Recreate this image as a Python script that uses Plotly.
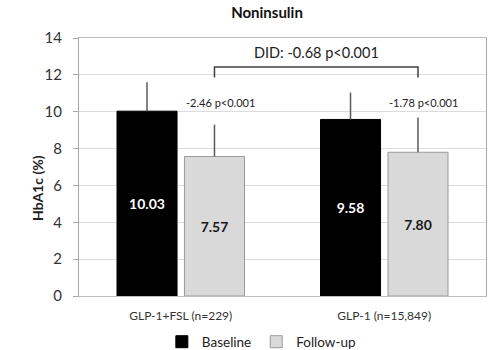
import plotly.graph_objects as go

# Data
groups = ["GLP-1+FSL (n=229)", "GLP-1 (n=15,849)"]
baseline = [10.03, 9.58]
followup = [7.57, 7.80]
baseline_sd = [1.57, 1.46]
followup_sd = [1.73, 1.88]
change_labels = ["-2.46 p<0.001", "-1.78 p<0.001"]
did_label = "DID: -0.68 p<0.001"
y_ticks = [0, 2, 4, 6, 8, 10, 12, 14]

FONT = "Lato, 'Open Sans', sans-serif"
BARGAP = 0.337
GROUPGAP = 0.11
# centre of the second bar in each group, relative to the category position
slot = (1 - BARGAP) / 2
fu_offset = slot / 2

fig = go.Figure()
fig.add_trace(go.Bar(
    name="Baseline", x=[0, 1], y=baseline,
    marker=dict(color="#000000", line=dict(color="#000000", width=1)),
    text=[f"{v:.2f}" for v in baseline], textposition="inside",
    insidetextanchor="middle",
    textfont=dict(family=FONT, size=14, color="white", weight="bold"),
    error_y=dict(type="data", array=baseline_sd, arrayminus=[0, 0], symmetric=False,
                 width=0, thickness=1.5, color="#5a5a5a"),
))
fig.add_trace(go.Bar(
    name="Follow-up", x=[0, 1], y=followup,
    marker=dict(color="#d9d9d9", line=dict(color="#9a9a9a", width=1)),
    text=[f"{v:.2f}" for v in followup], textposition="inside",
    insidetextanchor="middle",
    textfont=dict(family=FONT, size=14, color="#1a1a1a", weight="bold"),
    error_y=dict(type="data", array=followup_sd, arrayminus=[0, 0], symmetric=False,
                 width=0, thickness=1.5, color="#5a5a5a"),
))

# Within-group change annotations above the follow-up bars
for i, lab in enumerate(change_labels):
    fig.add_annotation(x=i + fu_offset, y=10.5, text=lab, showarrow=False,
                       xshift=6, font=dict(family=FONT, size=11, color="#222"))

# Difference-in-differences bracket between the follow-up bars
x0, x1 = 0 + fu_offset, 1 + fu_offset
fig.add_shape(type="path", xref="x", yref="y",
              path=f"M {x0},11.85 L {x0},12.42 L {x1},12.42 L {x1},11.85",
              line=dict(color="#404040", width=1.5))
fig.add_annotation(x=0.5 + fu_offset, y=13.2, text=did_label, showarrow=False,
                   font=dict(family=FONT, size=14.5, color="#222"))

# Y axis title
fig.add_annotation(xref="paper", yref="paper", x=-0.128, y=0.42,
                   text="<b>HbA1c (%)</b>", textangle=-90, showarrow=False,
                   font=dict(family=FONT, size=14, color="#222"))

fig.update_layout(
    width=493, height=350,
    margin=dict(l=79, r=7, t=38, b=54, autoexpand=False),
    paper_bgcolor="white", plot_bgcolor="white",
    barmode="group", bargap=BARGAP, bargroupgap=GROUPGAP,
    title=dict(text="<b>Noninsulin</b>", x=267 / 493, xanchor="center",
               y=1 - 13 / 350, yanchor="middle",
               font=dict(family=FONT, size=15, color="#111")),
    legend=dict(orientation="h", x=0.448, xanchor="center", y=-0.178,
                yanchor="middle", font=dict(family=FONT, size=13.5, color="#222"),
                itemwidth=30, traceorder="normal"),
    xaxis=dict(tickmode="array", tickvals=[0, 1], ticktext=groups,
               range=[-0.5, 1.5], showline=True, linecolor="#bdbdbd",
               mirror=True, ticks="", ticklabelstandoff=9, automargin=False,
               tickfont=dict(family=FONT, size=12, color="#333")),
    yaxis=dict(range=[0, 14], tickvals=y_ticks, showgrid=True,
               gridcolor="#dcdcdc", gridwidth=1, showline=True,
               linecolor="#a6a6a6", mirror=True, ticks="outside",
               ticklen=5, tickcolor="#a6a6a6", zeroline=False,
               ticklabelstandoff=8, automargin=False,
               tickfont=dict(family=FONT, size=15, color="#333")),
)

fig.write_html("out.html")
